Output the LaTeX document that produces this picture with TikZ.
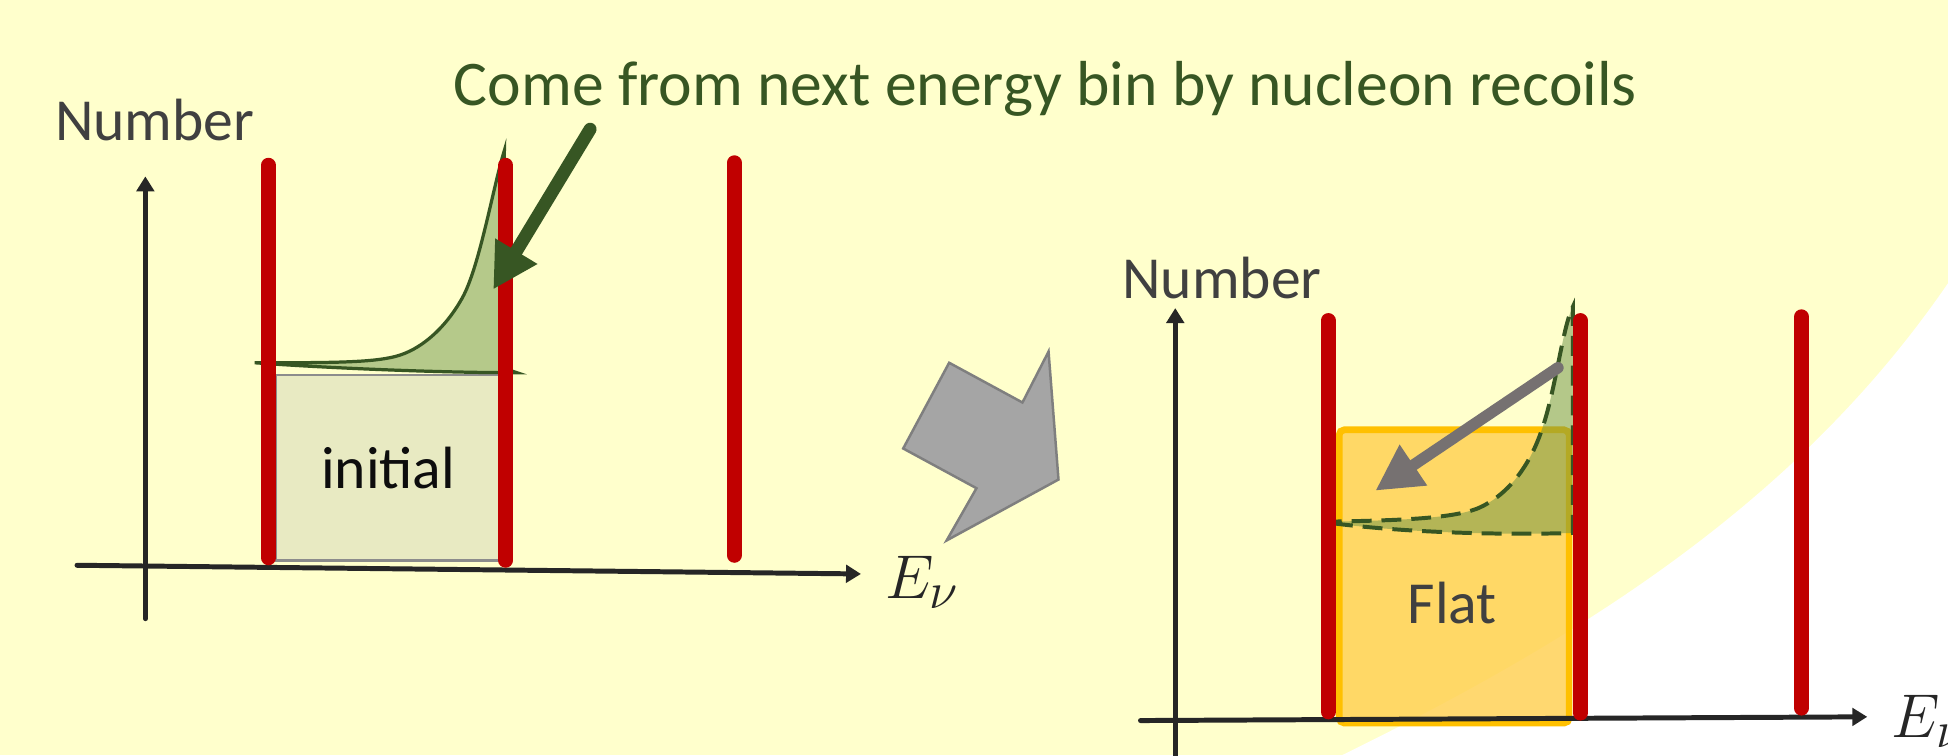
\documentclass[tikz,border=0pt]{standalone}
\usepackage{fontspec}
\setmainfont{Carlito}
\usetikzlibrary{arrows.meta}
\definecolor{bgyellow}{RGB}{255,255,204}
\definecolor{binred}{RGB}{192,0,0}
\definecolor{axisgray}{RGB}{38,38,38}
\definecolor{labelgray}{RGB}{64,64,64}
\definecolor{darkgreen}{RGB}{55,86,35}
\definecolor{lightgreen}{RGB}{181,201,138}
\definecolor{greenT}{RGB}{107,147,72}
\definecolor{initfill}{RGB}{232,234,194}
\definecolor{initedge}{RGB}{140,140,140}
\definecolor{flatfill}{RGB}{255,207,77}
\definecolor{flatedge}{RGB}{255,192,0}
\definecolor{blockfill}{RGB}{165,165,165}
\definecolor{blockedge}{RGB}{127,127,127}
\definecolor{arrowgray}{RGB}{118,113,113}
\tikzset{
  axisline/.style={draw=axisgray, line width=2pt, line cap=round, -{Triangle[length=6pt,width=7pt]}},
  binline/.style={draw=binred, line width=6pt, line cap=round},
  numlbl/.style={inner sep=0pt, anchor=base west, text=labelgray, font=\fontsize{24}{28}\selectfont},
  elbl/.style={inner sep=0pt, anchor=base west, text=axisgray, font=\fontsize{29}{31}\selectfont},
  initbox/.style={draw=initedge, fill=initfill, line width=1pt, minimum width=90.5pt, minimum height=74.5pt, inner sep=0pt, text=black!95, font=\fontsize{24}{28}\selectfont},
  flatbox/.style={draw=flatedge, fill=flatfill, fill opacity=0.8, line width=2.7pt, rounded corners=2pt, minimum width=92.5pt, minimum height=118pt, inner sep=0pt},
  flattext/.style={inner sep=0pt, text=labelgray, font=\fontsize{24}{28}\selectfont},
  greentext/.style={inner sep=0pt, anchor=base west, text=darkgreen, font=\fontsize{25.6}{30}\selectfont},
  greenarrow/.style={draw=darkgreen, line width=5.2pt, line cap=round, -{Triangle[length=18pt,width=18.5pt]}},
  grayarrow/.style={draw=arrowgray, line width=4.6pt, line cap=round, -{Triangle[length=18.5pt,width=18.5pt]}},
  blockarrow/.style={fill=blockfill, draw=blockedge, line width=1pt, line join=miter},
  peakfill/.style={fill=lightgreen, draw=darkgreen, line width=1.3pt},
  peakdash/.style={fill=greenT, fill opacity=0.5, draw=darkgreen, draw opacity=1, line width=1.6pt, dash pattern=on 8pt off 4pt},
}
\begin{document}
\begin{tikzpicture}[x=0.5pt,y=-0.5pt]
\useasboundingbox (0,0) rectangle (1568,608);
\fill[bgyellow] (0,0) rectangle (1568,608);
\fill[white] (1080,608) .. controls (1280,510) and (1450,400) .. (1568,228) -- (1568,608) -- cycle;

% ---------------- left panel ----------------
\node[greentext] (title) at (365,85) {Come from next energy bin by nucleon recoils};
\node[numlbl] (Lnum) at (44,113) {Number};
\node[initbox] (init) at (312.5,376.5) {initial};

\coordinate (LX0) at (62,455);
\coordinate (LX1) at (693,462);
\coordinate (LY0) at (117,498);
\coordinate (LY1) at (117,142);
\draw[axisline] (LX0) -- (LX1);
\draw[axisline] (LY0) -- (LY1);
\node[elbl] (LE) at (712,482) {$E_\nu$};

\path[peakfill] (205,292) .. controls (265,292) and (298,292) .. (318,287)
  .. controls (338,282) and (358,265) .. (372,240)
  .. controls (386,215) and (397,150) .. (406,121)
  -- (404,200) -- (404,296) -- (416,300)
  .. controls (350,300) and (260,296) .. (205,292) -- cycle;

\coordinate (LB1a) at (216,133); \coordinate (LB1b) at (216,449);
\coordinate (LB2a) at (407,133); \coordinate (LB2b) at (407,451);
\coordinate (LB3a) at (591,131); \coordinate (LB3b) at (591,447);
\draw[binline] (LB1a) -- (LB1b);
\draw[binline] (LB2a) -- (LB2b);
\draw[binline] (LB3a) -- (LB3b);

\coordinate (GA0) at (475,104);
\coordinate (GA1) at (397,233);
\draw[greenarrow] (GA0) -- (GA1);

% ---------------- middle block arrow ----------------
\filldraw[blockarrow] (764,292) -- (823,324) -- (844,283) -- (852,386) -- (762,435) -- (786,393) -- (727,361) -- cycle;

% ---------------- right panel ----------------
\node[numlbl] (Rnum) at (903,240) {Number};
\node[flatbox] (flat) at (1170.5,464) {};
\node[flattext] (flatlbl) at (1169,485) {Flat};

\path[peakdash] (1064,420) .. controls (1120,419) and (1168,418) .. (1190,409)
  .. controls (1213,399) and (1231,376) .. (1241,346)
  .. controls (1252,315) and (1258,262) .. (1266,247)
  -- (1266,429)
  .. controls (1200,431) and (1120,428) .. (1064,420) -- cycle;

\coordinate (RX0) at (918,580);
\coordinate (RX1) at (1503,577);
\coordinate (RY0) at (946,612);
\coordinate (RY1) at (946,248);
\draw[axisline] (RX0) -- (RX1);
\draw[axisline] (RY0) -- (RY1);
\node[elbl] (RE) at (1522,594) {$E_\nu$};

\coordinate (RB1a) at (1069,258); \coordinate (RB1b) at (1069,573);
\coordinate (RB2a) at (1272,258); \coordinate (RB2b) at (1272,574);
\coordinate (RB3a) at (1450,255); \coordinate (RB3b) at (1450,570);
\draw[binline] (RB1a) -- (RB1b);
\draw[binline] (RB2a) -- (RB2b);
\draw[binline] (RB3a) -- (RB3b);

\coordinate (GR0) at (1254,296);
\coordinate (GR1) at (1107,395);
\draw[grayarrow] (GR0) -- (GR1);
\end{tikzpicture}
\end{document}
